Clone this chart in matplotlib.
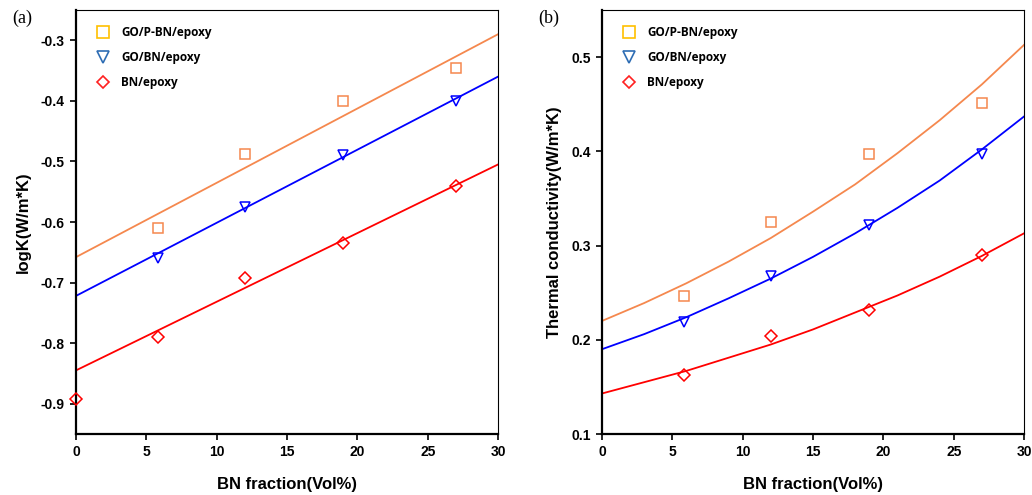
import matplotlib
matplotlib.use("Agg")
import matplotlib.pyplot as plt
from matplotlib.lines import Line2D

plt.rcParams['font.family'] = ['Liberation Sans', 'DejaVu Sans']
plt.rcParams['axes.unicode_minus'] = False

# measured points
bn_x = [5.8, 12, 19, 27]
bn_x_red = [0, 5.8, 12, 19, 27]

logk_gop = [-0.61, -0.488, -0.40, -0.345]
logk_gobn = [-0.66, -0.575, -0.49, -0.40]
logk_bn = [-0.893, -0.79, -0.692, -0.634, -0.54]

tc_gop = [0.247, 0.325, 0.397, 0.451]
tc_gobn = [0.219, 0.268, 0.322, 0.397]
tc_bn = [0.163, 0.204, 0.232, 0.290]

# fitted lines (a) read at the ends
fit_x_a = [0, 30]
fit_gop_a = [-0.658, -0.290]
fit_gobn_a = [-0.722, -0.360]
fit_bn_a = [-0.845, -0.505]

# fitted curves (b) read along x
fit_x_b = [0, 3, 6, 9, 12, 15, 18, 21, 24, 27, 30]
fit_gop_b = [0.220, 0.239, 0.260, 0.283, 0.308, 0.336, 0.365, 0.398, 0.433, 0.471, 0.513]
fit_gobn_b = [0.190, 0.206, 0.224, 0.244, 0.265, 0.288, 0.313, 0.340, 0.369, 0.402, 0.437]
fit_bn_b = [0.143, 0.155, 0.167, 0.181, 0.195, 0.211, 0.229, 0.247, 0.267, 0.289, 0.313]

labels = ['GO/P-BN/epoxy', 'GO/BN/epoxy', 'BN/epoxy']

c_orange = '#F5884E'
c_blue = '#0000FF'
c_red = '#FF0000'

fig = plt.figure(figsize=(10.32, 4.95), dpi=100)
ax1 = fig.add_axes([0.0736, 0.1232, 0.409, 0.8566])
ax2 = fig.add_axes([0.5833, 0.1232, 0.409, 0.8566])

mk = dict(ms=7, mfc='none', mew=1.1, ls='none', clip_on=False, zorder=3)

def style(ax, ylabel):
    ax.set_xlim(0, 30)
    ax.set_xticks([0, 5, 10, 15, 20, 25, 30])
    ax.tick_params(direction='out', length=4, width=1.2, labelsize=10, pad=4)
    for t in ax.get_xticklabels() + ax.get_yticklabels():
        t.set_fontweight('bold')
    ax.spines['left'].set_linewidth(1.6)
    ax.spines['bottom'].set_linewidth(1.6)
    ax.spines['top'].set_linewidth(0.8)
    ax.spines['right'].set_linewidth(0.8)
    ax.set_xlabel('BN fraction(Vol%)', fontsize=12, fontweight='bold', labelpad=13)
    ax.set_ylabel(ylabel, fontsize=12, fontweight='bold', labelpad=7)
    handles = [
        Line2D([], [], marker='s', color='#FFC000', mfc='none', ms=8, mew=1.2, ls='none'),
        Line2D([], [], marker='v', color='#2E6DB4', mfc='none', ms=8, mew=1.2, ls='none'),
        Line2D([], [], marker='D', color='#FF2020', mfc='none', ms=6.5, mew=1.2, ls='none'),
    ]
    ax.legend(handles, labels, loc='upper left', frameon=False,
              prop={'family': 'Open Sans', 'weight': 'bold', 'size': 8.5},
              handlelength=1.2, handletextpad=0.9, labelspacing=1.0, borderaxespad=0.6,
              bbox_to_anchor=(0.02, 0.99))

# (a)
ax1.plot(fit_x_a, fit_gop_a, color=c_orange, lw=1.3)
ax1.plot(fit_x_a, fit_gobn_a, color=c_blue, lw=1.3)
ax1.plot(fit_x_a, fit_bn_a, color=c_red, lw=1.3)
ax1.plot(bn_x, logk_gop, marker='s', color=c_orange, **mk)
ax1.plot(bn_x, logk_gobn, marker='v', color=c_blue, **mk)
ax1.plot(bn_x_red, logk_bn, marker='D', color=c_red, **dict(mk, ms=6.5))
ax1.set_ylim(-0.95, -0.25)
ax1.set_yticks([-0.9, -0.8, -0.7, -0.6, -0.5, -0.4, -0.3])
style(ax1, 'logK(W/m*K)')

# (b)
ax2.plot(fit_x_b, fit_gop_b, color=c_orange, lw=1.3)
ax2.plot(fit_x_b, fit_gobn_b, color=c_blue, lw=1.3)
ax2.plot(fit_x_b, fit_bn_b, color=c_red, lw=1.3)
ax2.plot(bn_x, tc_gop, marker='s', color=c_orange, **mk)
ax2.plot(bn_x, tc_gobn, marker='v', color=c_blue, **mk)
ax2.plot(bn_x, tc_bn, marker='D', color=c_red, **dict(mk, ms=6.5))
ax2.set_ylim(0.1, 0.55)
ax2.set_yticks([0.1, 0.2, 0.3, 0.4, 0.5])
style(ax2, 'Thermal conductivity(W/m*K)')

fig.text(0.012, 0.962, '(a)', fontsize=13, family='Liberation Serif', va='center')
fig.text(0.522, 0.962, '(b)', fontsize=13, family='Liberation Serif', va='center')

fig.savefig('out.png', dpi=100)
